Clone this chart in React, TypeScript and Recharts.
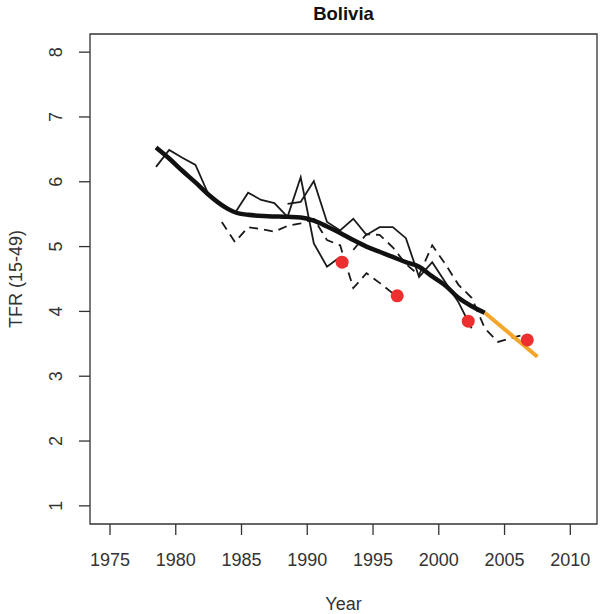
import React from "react";
import { ComposedChart, Line, Scatter, XAxis, YAxis, ReferenceArea, Label } from "recharts";

// birth-history estimates, one array per survey
const survey1994 = [
  { year: 1978.5, tfr: 6.23 },
  { year: 1979.5, tfr: 6.49 },
  { year: 1980.5, tfr: 6.37 },
  { year: 1981.5, tfr: 6.26 },
  { year: 1982.5, tfr: 5.8 },
  { year: 1983.5, tfr: 5.66 },
  { year: 1984.5, tfr: 5.52 },
  { year: 1985.5, tfr: 5.83 },
  { year: 1986.5, tfr: 5.72 },
  { year: 1987.5, tfr: 5.67 },
  { year: 1988.5, tfr: 5.46 },
  { year: 1989.5, tfr: 6.07 },
  { year: 1990.5, tfr: 5.05 },
  { year: 1991.5, tfr: 4.69 },
  { year: 1992.5, tfr: 4.84 },
];

const survey1998 = [
  { year: 1983.5, tfr: 5.38 },
  { year: 1984.5, tfr: 5.07 },
  { year: 1985.5, tfr: 5.3 },
  { year: 1986.5, tfr: 5.27 },
  { year: 1987.5, tfr: 5.23 },
  { year: 1988.5, tfr: 5.32 },
  { year: 1989.5, tfr: 5.36 },
  { year: 1990.5, tfr: 5.43 },
  { year: 1991.5, tfr: 5.1 },
  { year: 1992.5, tfr: 5.02 },
  { year: 1993.5, tfr: 4.36 },
  { year: 1994.5, tfr: 4.59 },
  { year: 1995.5, tfr: 4.44 },
  { year: 1996.5, tfr: 4.28 },
];

const survey2003 = [
  { year: 1988.5, tfr: 5.66 },
  { year: 1989.5, tfr: 5.69 },
  { year: 1990.5, tfr: 6.01 },
  { year: 1991.5, tfr: 5.38 },
  { year: 1992.5, tfr: 5.25 },
  { year: 1993.5, tfr: 5.43 },
  { year: 1994.5, tfr: 5.18 },
  { year: 1995.5, tfr: 5.3 },
  { year: 1996.5, tfr: 5.3 },
  { year: 1997.5, tfr: 5.13 },
  { year: 1998.5, tfr: 4.53 },
  { year: 1999.5, tfr: 4.76 },
  { year: 2000.5, tfr: 4.45 },
  { year: 2001.5, tfr: 4.14 },
  { year: 2002.5, tfr: 3.74 },
];

const survey2008 = [
  { year: 1993.5, tfr: 4.95 },
  { year: 1994.5, tfr: 5.19 },
  { year: 1995.5, tfr: 5.18 },
  { year: 1996.5, tfr: 4.99 },
  { year: 1997.5, tfr: 4.73 },
  { year: 1998.5, tfr: 4.56 },
  { year: 1999.5, tfr: 5.02 },
  { year: 2000.5, tfr: 4.73 },
  { year: 2001.5, tfr: 4.41 },
  { year: 2002.5, tfr: 4.21 },
  { year: 2003.5, tfr: 3.74 },
  { year: 2004.5, tfr: 3.53 },
  { year: 2005.5, tfr: 3.59 },
  { year: 2006.5, tfr: 3.64 },
];

// smoothed trend and its projection
const trend = [
  { year: 1978.5, tfr: 6.53 },
  { year: 1979.5, tfr: 6.36 },
  { year: 1980.5, tfr: 6.17 },
  { year: 1981.5, tfr: 5.99 },
  { year: 1982.5, tfr: 5.8 },
  { year: 1983.5, tfr: 5.64 },
  { year: 1984.5, tfr: 5.53 },
  { year: 1985.5, tfr: 5.49 },
  { year: 1987, tfr: 5.47 },
  { year: 1988.5, tfr: 5.46 },
  { year: 1989.5, tfr: 5.45 },
  { year: 1990.5, tfr: 5.4 },
  { year: 1991.5, tfr: 5.31 },
  { year: 1992.5, tfr: 5.21 },
  { year: 1993.5, tfr: 5.1 },
  { year: 1994.5, tfr: 5.0 },
  { year: 1995.5, tfr: 4.92 },
  { year: 1996.5, tfr: 4.84 },
  { year: 1997.5, tfr: 4.76 },
  { year: 1998.5, tfr: 4.69 },
  { year: 1999.5, tfr: 4.54 },
  { year: 2000.5, tfr: 4.4 },
  { year: 2001.5, tfr: 4.21 },
  { year: 2002.5, tfr: 4.08 },
  { year: 2003.5, tfr: 3.98 },
];

const projection = [
  { year: 2003.5, tfr: 3.98 },
  { year: 2005.5, tfr: 3.64 },
  { year: 2007.5, tfr: 3.3 },
];

// direct survey estimates
const direct = [
  { year: 1992.65, tfr: 4.76 },
  { year: 1996.84, tfr: 4.24 },
  { year: 2002.24, tfr: 3.85 },
  { year: 2006.73, tfr: 3.56 },
];

const xTicks = [1975, 1980, 1985, 1990, 1995, 2000, 2005, 2010];
const yTicks = [1, 2, 3, 4, 5, 6, 7, 8];
const xDomain = [1973.48, 2012.03];
const yDomain = [0.72, 8.28];

const FONT = "'Liberation Sans', Arial, Helvetica, sans-serif";
const INK = "#333";

const XTick = (props: any) => {
  const { x, y, payload } = props;
  return (
    <text x={x} y={y + 29} textAnchor="middle" fontSize={18} fill={INK} fontFamily={FONT}>
      {payload.value}
    </text>
  );
};

const YTick = (props: any) => {
  const { x, y, payload } = props;
  const bx = x - 14.5;
  return (
    <text
      x={bx}
      y={y}
      textAnchor="middle"
      fontSize={18}
      fill={INK}
      fontFamily={FONT}
      transform={`rotate(-90, ${bx}, ${y})`}
    >
      {payload.value}
    </text>
  );
};

const dot = (p: any) => <circle cx={p.cx} cy={p.cy} r={6.5} fill="#ee2f2f" />;

export default function App() {
  return (
    <div style={{ position: "absolute", left: 0, top: 0, width: 604, height: 614, background: "#fff" }}>
      <svg width={604} height={30} style={{ position: "absolute", left: 0, top: 0 }}>
        <text x={343.5} y={19.5} textAnchor="middle" fontSize={18.5} fontWeight="bold" fill="#111" fontFamily={FONT}>
          Bolivia
        </text>
      </svg>
      <ComposedChart width={604} height={614} margin={{ top: 34, right: 7, bottom: 50, left: 30 }}>
        <XAxis
          dataKey="year"
          type="number"
          domain={xDomain}
          allowDataOverflow
          ticks={xTicks}
          tick={<XTick />}
          tickSize={11}
          tickLine={{ stroke: INK, strokeWidth: 1.3 }}
          axisLine={false}
          height={40}
        >
          <Label
            content={(p: any) => (
              <text
                x={p.viewBox.x + p.viewBox.width / 2}
                y={p.viewBox.y + 86}
                textAnchor="middle"
                fontSize={18}
                fill={INK}
                fontFamily={FONT}
              >
                Year
              </text>
            )}
          />
        </XAxis>
        <YAxis
          type="number"
          domain={yDomain}
          allowDataOverflow
          ticks={yTicks}
          tick={<YTick />}
          tickSize={11}
          tickLine={{ stroke: INK, strokeWidth: 1.3 }}
          axisLine={false}
          width={60}
        >
          <Label
            content={(p: any) => {
              const cx = 22;
              const cy = p.viewBox.y + p.viewBox.height / 2;
              return (
                <text
                  x={cx}
                  y={cy}
                  textAnchor="middle"
                  fontSize={18}
                  fill={INK}
                  fontFamily={FONT}
                  transform={`rotate(-90, ${cx}, ${cy})`}
                >
                  TFR (15-49)
                </text>
              );
            }}
          />
        </YAxis>
        <ReferenceArea
          x1={xDomain[0]}
          x2={xDomain[1]}
          y1={yDomain[0]}
          y2={yDomain[1]}
          fill="none"
          stroke={INK}
          strokeWidth={1.3}
          ifOverflow="visible"
        />
        <Line data={survey1994} dataKey="tfr" type="linear" stroke="#1a1a1a" strokeWidth={1.8} dot={false} isAnimationActive={false} />
        <Line data={survey1998} dataKey="tfr" type="linear" stroke="#1a1a1a" strokeWidth={1.8} strokeDasharray="9 6" dot={false} isAnimationActive={false} />
        <Line data={survey2003} dataKey="tfr" type="linear" stroke="#1a1a1a" strokeWidth={1.8} dot={false} isAnimationActive={false} />
        <Line data={survey2008} dataKey="tfr" type="linear" stroke="#1a1a1a" strokeWidth={1.8} strokeDasharray="9 6" dot={false} isAnimationActive={false} />
        <Line data={trend} dataKey="tfr" type="monotone" stroke="#111" strokeWidth={4.5} dot={false} isAnimationActive={false} />
        <Line data={projection} dataKey="tfr" type="linear" stroke="#f5a52a" strokeWidth={4} dot={false} isAnimationActive={false} />
        <Scatter data={direct} dataKey="tfr" shape={dot} isAnimationActive={false} />
      </ComposedChart>
    </div>
  );
}
